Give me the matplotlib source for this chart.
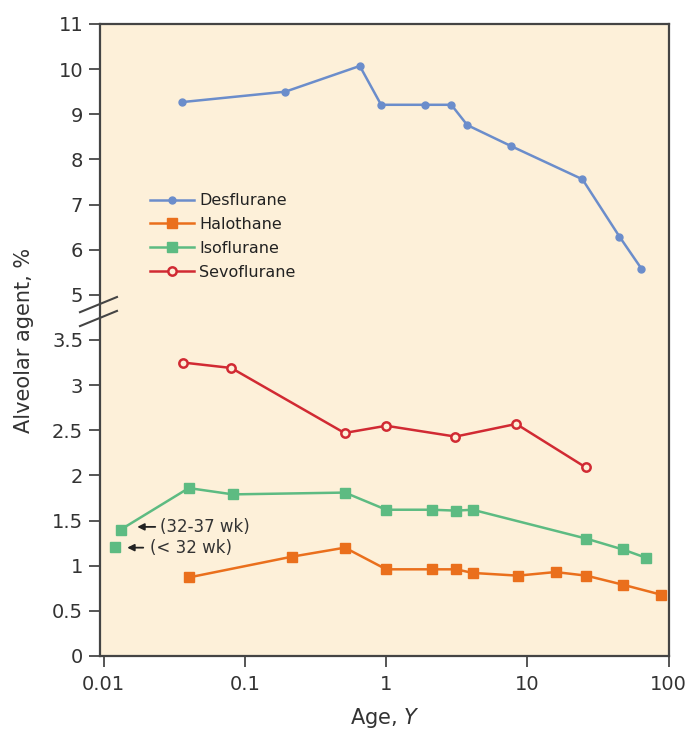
import numpy as np
import matplotlib
matplotlib.use('Agg')
import matplotlib.pyplot as plt
from matplotlib.ticker import NullLocator

# ages (years) and alveolar concentrations (%)
des_age = [0.036, 0.193, 0.65, 0.92, 1.88, 2.89, 3.75, 7.6, 24.5, 44.8, 64.1]
des_val = [9.27, 9.50, 10.07, 9.21, 9.21, 9.21, 8.76, 8.30, 7.56, 6.29, 5.58]

hal_age = [0.040, 0.215, 0.51, 1.0, 2.10, 3.13, 4.09, 8.57, 15.8, 26.1, 47.3, 87.9]
hal_val = [0.87, 1.10, 1.20, 0.96, 0.96, 0.96, 0.92, 0.89, 0.93, 0.89, 0.79, 0.68]

iso_age = [0.0132, 0.040, 0.082, 0.51, 1.0, 2.10, 3.13, 4.09, 26.1, 47.3, 68.5]
iso_val = [1.40, 1.86, 1.79, 1.81, 1.62, 1.62, 1.61, 1.62, 1.30, 1.18, 1.09]
iso_preterm_age = [0.0121]
iso_preterm_val = [1.21]

sevo_age = [0.0366, 0.080, 0.507, 1.0, 3.09, 8.33, 25.8]
sevo_val = [3.25, 3.19, 2.47, 2.55, 2.43, 2.57, 2.09]

ytick_vals = [0, 0.5, 1, 1.5, 2, 2.5, 3, 3.5, 5, 6, 7, 8, 9, 10, 11]
xtick_vals = [0.01, 0.1, 1, 10, 100]
xtick_labels = ['0.01', '0.1', '1', '10', '100']

c_des = '#6b8dcb'
c_hal = '#ea6f1c'
c_iso = '#5dbb82'
c_sevo = '#d12a33'
bg = '#fdf0d9'
ink = '#333333'


# broken y axis: 0-3.5 at double scale, 3.5-5 squeezed into one step, 5-11 normal
def fwd(y):
    y = np.asarray(y, dtype=float)
    return np.where(y <= 3.5, y * 2,
                    np.where(y < 5, 7 + (y - 3.5) / 1.5, 8 + (y - 5)))


def inv(t):
    t = np.asarray(t, dtype=float)
    return np.where(t <= 7, t / 2,
                    np.where(t < 8, 3.5 + (t - 7) * 1.5, 5 + (t - 8)))


plt.rcParams['font.family'] = ['DejaVu Sans']

fig = plt.figure(figsize=(6.89, 7.31), dpi=100)
ax = fig.add_axes([0.145, 0.1026, 0.826, 0.8646])
ax.set_facecolor(bg)

ax.plot(des_age, des_val, '-o', color=c_des, lw=1.8, ms=5, label='Desflurane')
ax.plot(hal_age, hal_val, '-s', color=c_hal, lw=1.8, ms=7.5, label='Halothane')
ax.plot(iso_age, iso_val, '-s', color=c_iso, lw=1.8, ms=7.5, label='Isoflurane')
ax.plot(iso_preterm_age, iso_preterm_val, 's', color=c_iso, ms=7.5)
ax.plot(sevo_age, sevo_val, '-o', color=c_sevo, lw=1.8, ms=6,
        mfc=bg, mec=c_sevo, mew=1.8, label='Sevoflurane')

ax.set_xscale('log')
ax.set_yscale('function', functions=(fwd, inv))
ax.set_xlim(0.0094, 100.5)
ax.set_ylim(0, 11)

ax.set_xticks(xtick_vals)
ax.set_xticklabels(xtick_labels)
ax.xaxis.set_minor_locator(NullLocator())
ax.set_yticks(ytick_vals)
ax.set_yticklabels(['%g' % v for v in ytick_vals])
ax.yaxis.set_minor_locator(NullLocator())

for s in ['left', 'bottom', 'top', 'right']:
    ax.spines[s].set_color('#444444')
    ax.spines[s].set_linewidth(1.6)
ax.tick_params(direction='out', length=8, width=1.4, color='#555555',
               labelsize=14, labelcolor=ink, pad=4)
ax.tick_params(axis='x', pad=6)

ax.set_ylabel('Alveolar agent, %', fontsize=15, color=ink, labelpad=13)
ax.set_xlabel('Age, $\\mathit{Y}$', fontsize=15, color=ink, labelpad=8)

# axis break marks
for y0 in (0.544, 0.522):
    ax.plot([-0.035, 0.03], [y0, y0 + 0.024], transform=ax.transAxes,
            color='#444444', lw=1.5, clip_on=False)

# preterm notes
notes = [('(32-37 wk)', 1.43, 0.01728, 0.02317, 0.0250),
         ('(< 32 wk)', 1.20, 0.01467, 0.01905, 0.0213)]
for txt, yv, x_tip, x_tail, x_txt in notes:
    ax.annotate('', xy=(x_tip, yv), xytext=(x_tail, yv),
                arrowprops=dict(arrowstyle='-|>', color='#222222', lw=1.3,
                                mutation_scale=10, shrinkA=0, shrinkB=0))
    ax.text(x_txt, yv, txt, fontsize=12, color=ink, va='center', ha='left')

leg = ax.legend(loc='upper left', bbox_to_anchor=(0.062, 0.755), frameon=False,
                fontsize=11.5, handlelength=2.8, handletextpad=0.3,
                labelspacing=0.55)
for t in leg.get_texts():
    t.set_color('#222222')

fig.savefig('out.png', dpi=100, facecolor='white')
